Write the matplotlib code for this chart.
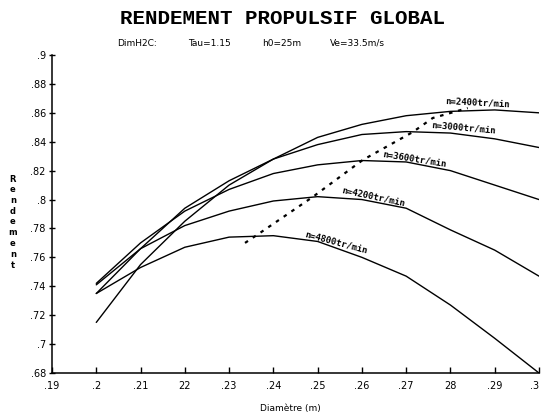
import matplotlib
matplotlib.use("Agg")
import matplotlib.pyplot as plt

# ---- data ----
diam = [0.20, 0.21, 0.22, 0.23, 0.24, 0.25, 0.26, 0.27, 0.28, 0.29, 0.30]
rend_2400 = [0.715, 0.755, 0.785, 0.810, 0.828, 0.843, 0.852, 0.858, 0.861, 0.862, 0.860]
rend_3000 = [0.735, 0.766, 0.794, 0.813, 0.828, 0.838, 0.845, 0.847, 0.846, 0.842, 0.836]
rend_3600 = [0.742, 0.770, 0.792, 0.807, 0.818, 0.824, 0.827, 0.826, 0.820, 0.810, 0.800]
rend_4200 = [0.741, 0.766, 0.782, 0.792, 0.799, 0.802, 0.800, 0.794, 0.779, 0.765, 0.747]
rend_4800 = [0.735, 0.753, 0.767, 0.774, 0.775, 0.771, 0.760, 0.747, 0.727, 0.704, 0.680]
series_labels = ["n=2400tr/min", "n=3000tr/min", "n=3600tr/min", "n=4200tr/min", "n=4800tr/min"]

# locus of maxima (dotted)
opt_diam = [0.2336, 0.2363, 0.2489, 0.2602, 0.2715, 0.2760, 0.2839]
opt_rend = [0.770, 0.7755, 0.8018, 0.8274, 0.8467, 0.8564, 0.8633]

xticks = [0.19, 0.20, 0.21, 0.22, 0.23, 0.24, 0.25, 0.26, 0.27, 0.28, 0.29, 0.30]
xticklabels = [".19", ".2", ".21", "22", ".23", ".24", ".25", ".26", ".27", "28", ".29", ".3"]
yticks = [0.68, 0.70, 0.72, 0.74, 0.76, 0.78, 0.80, 0.82, 0.84, 0.86, 0.88, 0.90]
yticklabels = [".68", ".7", ".72", ".74", ".76", ".78", ".8", ".82", ".84", ".86", ".88", ".9"]

title = "RENDEMENT PROPULSIF GLOBAL"
subtitle_parts = ["DimH2C:", "Tau=1.15", "h0=25m", "Ve=33.5m/s"]
xlabel = "Diamètre (m)"
ylabel = "Rendement"

# ---- figure ----
fig = plt.figure(figsize=(5.42, 4.16), dpi=100)
ax = fig.add_axes([52/542, 1-373/416, (539-52)/542, (373-55)/416])

all_series = [rend_2400, rend_3000, rend_3600, rend_4200, rend_4800]
for s in all_series:
    ax.plot(diam, s, color="black", lw=1.0, solid_capstyle="round", solid_joinstyle="round")

ax.plot(opt_diam, opt_rend, color="black", lw=1.6, linestyle=(0, (1.6, 2.6)))

label_pos = [(0.2862, 0.8672, -3), (0.2830, 0.8497, -5), (0.2720, 0.8280, -9),
             (0.2626, 0.8018, -12), (0.2543, 0.7706, -15)]
for lab, (x, y, r) in zip(series_labels, label_pos):
    ax.text(x, y, lab, fontsize=6.5, family="DejaVu Sans Mono", fontweight="bold",
            rotation=r, ha="center", va="center", rotation_mode="anchor")

ax.set_xlim(0.19, 0.30)
ax.set_ylim(0.68, 0.90)
ax.set_xticks(xticks)
ax.set_xticklabels(xticklabels, family="DejaVu Sans", fontsize=7)
ax.set_yticks(yticks)
ax.set_yticklabels(yticklabels, family="DejaVu Sans", fontsize=7)
ax.get_xticklabels()[-1].set_horizontalalignment("right")
ax.tick_params(axis="x", direction="in", length=4, width=1, pad=6)
ax.tick_params(axis="y", direction="inout", length=5, width=1, pad=2)
for side in ["top", "right"]:
    ax.spines[side].set_visible(False)
for side in ["left", "bottom"]:
    ax.spines[side].set_linewidth(1.1)

fig.text(283/542, 1-18/416, title, ha="center", va="center",
         family="Liberation Mono", fontweight="bold", fontsize=15)
sub_x = [117, 188, 262, 330]
for t, x in zip(subtitle_parts, sub_x):
    fig.text(x/542, 1-43/416, t, ha="left", va="center", family="DejaVu Sans", fontsize=6.5)

fig.text(290/542, 1-408/416, xlabel, ha="center", va="center", family="DejaVu Sans", fontsize=6.5)
fig.text(13/542, 1-222/416, "\n".join(ylabel), ha="center", va="center",
         family="DejaVu Sans", fontsize=6, linespacing=1.25, fontweight="bold")

fig.savefig("out.png", dpi=100)
